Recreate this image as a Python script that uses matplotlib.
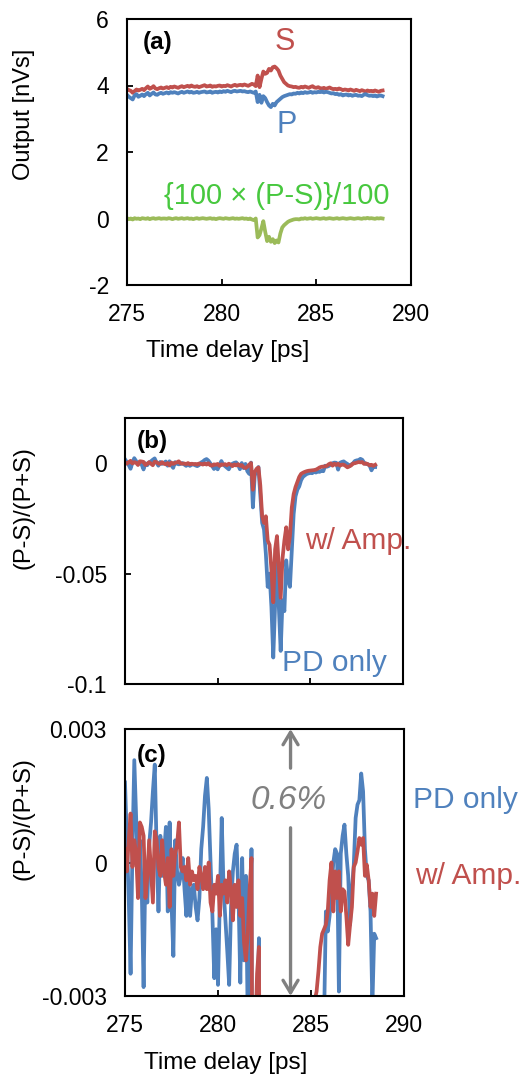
import numpy as np
import matplotlib
matplotlib.use("Agg")
import matplotlib.pyplot as plt

# ---- data ----
# time delay [ps], one sample every 0.1 ps
time_ps = [
    275.0, 275.1, 275.2, 275.3, 275.4, 275.5, 275.6, 275.7, 275.8, 275.9,
    276.0, 276.1, 276.2, 276.3, 276.4, 276.5, 276.6, 276.7, 276.8, 276.9,
    277.0, 277.1, 277.2, 277.3, 277.4, 277.5, 277.6, 277.7, 277.8, 277.9,
    278.0, 278.1, 278.2, 278.3, 278.4, 278.5, 278.6, 278.7, 278.8, 278.9,
    279.0, 279.1, 279.2, 279.3, 279.4, 279.5, 279.6, 279.7, 279.8, 279.9,
    280.0, 280.1, 280.2, 280.3, 280.4, 280.5, 280.6, 280.7, 280.8, 280.9,
    281.0, 281.1, 281.2, 281.3, 281.4, 281.5, 281.6, 281.7, 281.8, 281.9,
    282.0, 282.1, 282.2, 282.3, 282.4, 282.5, 282.6, 282.7, 282.8, 282.9,
    283.0, 283.1, 283.2, 283.3, 283.4, 283.5, 283.6, 283.7, 283.8, 283.9,
    284.0, 284.1, 284.2, 284.3, 284.4, 284.5, 284.6, 284.7, 284.8, 284.9,
    285.0, 285.1, 285.2, 285.3, 285.4, 285.5, 285.6, 285.7, 285.8, 285.9,
    286.0, 286.1, 286.2, 286.3, 286.4, 286.5, 286.6, 286.7, 286.8, 286.9,
    287.0, 287.1, 287.2, 287.3, 287.4, 287.5, 287.6, 287.7, 287.8, 287.9,
    288.0, 288.1, 288.2, 288.3, 288.4, 288.5,
]

# panel (a): outputs [nVs]
s_output = [
    3.90, 3.86, 3.84, 3.78, 3.83, 3.88, 3.85, 3.87, 3.90, 3.86,
    3.92, 3.97, 3.90, 3.93, 3.98, 3.91, 3.89, 3.92, 3.94, 3.91,
    3.93, 3.95, 3.92, 3.96, 3.94, 3.97, 3.95, 3.93, 3.96, 3.98,
    3.95, 3.97, 3.99, 3.96, 4.00, 3.97, 3.96, 3.98, 3.95, 3.97,
    3.99, 4.01, 3.97, 3.98, 4.00, 3.96, 3.98, 3.97, 3.99, 4.00,
    3.97, 3.99, 3.98, 4.01, 3.99, 3.97, 4.00, 4.02, 3.99, 4.01,
    4.02, 4.00, 4.03, 4.01, 3.99, 4.02, 4.05, 4.03, 3.98, 4.30,
    3.95, 4.20, 4.42, 4.35, 4.38, 4.50, 4.45, 4.55, 4.57, 4.52,
    4.45, 4.30, 4.20, 4.10, 4.05, 4.00, 3.98, 3.97, 3.95, 3.96,
    3.94, 3.93, 3.96, 3.94, 3.97, 3.95, 3.93, 3.96, 3.98, 3.94,
    3.93, 3.95, 3.92, 3.91, 3.93, 3.90, 3.92, 3.94, 3.91, 3.89,
    3.90, 3.88, 3.91, 3.89, 3.86, 3.88, 3.87, 3.85, 3.88, 3.86,
    3.84, 3.87, 3.85, 3.83, 3.86, 3.84, 3.82, 3.85, 3.83, 3.84,
    3.82, 3.85, 3.83, 3.81, 3.84, 3.85,
]
p_output = [
    3.72, 3.66, 3.62, 3.58, 3.70, 3.74, 3.66, 3.69, 3.73, 3.68,
    3.74, 3.78, 3.70, 3.75, 3.79, 3.73, 3.72, 3.76, 3.78, 3.75,
    3.77, 3.79, 3.76, 3.80, 3.78, 3.80, 3.78, 3.76, 3.79, 3.81,
    3.78, 3.80, 3.82, 3.79, 3.81, 3.78, 3.79, 3.81, 3.78, 3.80,
    3.81, 3.82, 3.79, 3.80, 3.82, 3.78, 3.80, 3.81, 3.79, 3.82,
    3.80, 3.83, 3.81, 3.84, 3.82, 3.80, 3.83, 3.84, 3.82, 3.83,
    3.84, 3.82, 3.83, 3.81, 3.80, 3.82, 3.80, 3.78, 3.82, 3.50,
    3.72, 3.48, 3.68, 3.62, 3.50, 3.40, 3.35, 3.45, 3.40, 3.50,
    3.55, 3.60, 3.65, 3.68, 3.70, 3.72, 3.74, 3.73, 3.76, 3.75,
    3.78, 3.76, 3.79, 3.77, 3.80, 3.78, 3.79, 3.81, 3.78, 3.80,
    3.79, 3.81, 3.80, 3.82, 3.79, 3.81, 3.80, 3.78, 3.76, 3.77,
    3.74, 3.75, 3.72, 3.74, 3.70, 3.72, 3.73, 3.70, 3.72, 3.69,
    3.71, 3.72, 3.69, 3.70, 3.68, 3.72, 3.74, 3.71, 3.69, 3.70,
    3.68, 3.70, 3.67, 3.69, 3.70, 3.68,
]
diff_output = [
    0.01, -0.02, 0.00, -0.03, 0.01, -0.01, 0.00, -0.02, 0.01, 0.00,
    -0.01, 0.01, -0.02, 0.00, 0.01, -0.01, 0.00, 0.01, -0.01, 0.00,
    0.00, -0.01, 0.01, 0.00, -0.02, 0.00, 0.01, -0.01, 0.00, 0.01,
    -0.01, 0.00, 0.01, -0.01, 0.00, -0.02, 0.00, 0.01, -0.01, 0.00,
    0.01, 0.00, -0.01, 0.00, 0.01, -0.01, 0.00, -0.02, 0.00, 0.01,
    0.00, -0.01, 0.01, 0.00, -0.01, 0.00, 0.01, -0.01, 0.00, -0.01,
    0.00, 0.01, -0.01, 0.00, -0.02, 0.00, -0.03, -0.05, 0.00, -0.57,
    -0.50, -0.30, -0.08, -0.40, -0.68, -0.55, -0.70, -0.62, -0.74, -0.66,
    -0.72, -0.45, -0.27, -0.20, -0.15, -0.10, -0.07, -0.05, -0.03, -0.02,
    -0.02, -0.03, 0.00, -0.01, 0.01, -0.01, 0.00, 0.01, -0.01, 0.00,
    0.01, 0.00, -0.01, 0.00, 0.01, -0.01, 0.00, 0.01, 0.00, -0.01,
    0.00, 0.01, -0.01, 0.00, 0.01, 0.00, -0.01, 0.00, 0.01, 0.00,
    -0.01, 0.00, 0.01, 0.00, -0.01, 0.01, 0.00, 0.02, 0.00, 0.01,
    0.00, -0.01, 0.01, 0.00, 0.01, 0.00,
]

# panels (b) and (c): (P-S)/(P+S), given in units of 1e-3
pd_only_milli = [
    1.8, 0.5, -0.8, -2.5, 0.3, 2.3, 1.0, -0.3, 0.5, -0.6,
    -2.8, 0.0, -0.9, 0.4, 0.9, 1.6, 2.2, 0.3, -1.1, 0.6,
    -0.3, 0.2, 0.8, -1.1, 0.9, -0.9, -2.1, 0.5, -0.2, -0.5,
    -0.3, 0.1, -0.6, -1.2, -0.4, -1.2, -0.6, -0.5, -1.0, -1.3,
    -0.8, 0.3, 0.8, 1.5, 1.9, 1.2, 0.0, -1.2, -2.6, -1.5,
    -2.75, -0.8, 1.0, -0.6, -1.3, -2.0, -2.75, -1.0, -0.2, 0.2,
    0.4, -0.7, -2.7, 0.1, -2.2, -0.3, -3.6, -4.8, 0.3, -20.0,
    -5.5, -3.8, -1.7, -14.0, -27.0, -30.0, -41.0, -56.0, -50.0, -65.0,
    -88.0, -64.0, -40.0, -65.0, -85.0, -62.0, -67.0, -44.0, -53.0, -56.0,
    -39.0, -23.0, -15.0, -12.0, -10.5, -7.7, -6.2, -5.5, -4.9, -4.6,
    -4.4, -4.5, -3.9, -4.2, -3.7, -3.9, -3.4, -3.6, -1.1, -1.55,
    -1.2, -0.6, 0.0, 0.3, 0.2, -2.9, 0.2, 0.6, 0.85, 0.2,
    -0.3, -1.4, -0.6, -0.05, 1.0, 1.3, 1.4, 2.0, 1.6, 0.3,
    -0.3, -0.4, -1.1, -3.2, -1.6, -1.7,
]
w_amp_milli = [
    0.3, -0.2, 0.5, 1.1, -0.1, 0.5, 0.2, -0.8, 0.9, 0.8,
    0.6, -0.8, -0.3, 0.5, -0.2, -0.9, 0.7, 0.5, -0.1, -0.3,
    0.5, -0.2, -0.5, 0.1, -1.0, 0.3, -0.3, 0.2, 0.4, 0.9,
    -0.1, -0.2, -0.1, -0.4, 0.1, -0.5, -0.2, -0.4, -0.3, -0.6,
    -0.1, -0.3, -0.6, -0.1, -0.6, 0.0, -0.9, -1.1, -0.5, -0.7,
    -0.3, -1.2, -0.5, -0.7, -0.4, -0.9, -0.2, -0.6, -1.3, -0.5,
    -1.0, -0.4, -1.2, -0.8, -1.8, -2.2, -1.6, -0.6, 0.1, -12.0,
    -4.0, -2.5, -1.9, -10.0, -24.0, -27.0, -24.0, -35.0, -37.0, -48.0,
    -63.0, -39.0, -33.0, -47.0, -61.0, -43.0, -35.0, -29.0, -39.0, -33.0,
    -20.0, -14.0, -10.8, -8.5, -6.2, -4.8, -4.3, -3.9, -3.6, -3.4,
    -3.3, -3.2, -3.1, -2.9, -2.45, -1.9, -1.6, -1.5, -1.4, -1.1,
    -0.4, 0.0, -1.1, -0.2, -0.8, -0.2, -1.1, -0.6, -0.65, -1.2,
    -1.85, -1.4, -1.0, -0.1, 0.0, 0.25, 0.55, 0.4, 0.55, -0.3,
    -0.05, -0.4, -1.0, -0.7, -1.2, -0.7,
]

x_ticks = [275, 280, 285, 290]
x_tick_labels = ["275", "280", "285", "290"]
a_ticks = [-2, 0, 2, 4, 6]
a_tick_labels = ["-2", "0", "2", "4", "6"]
b_ticks = [-0.1, -0.05, 0]
b_tick_labels = ["-0.1", "-0.05", "0"]
c_ticks = [-0.003, 0, 0.003]
c_tick_labels = ["-0.003", "0", "0.003"]

RED = "#C0504D"
BLUE = "#4F81BD"
GREEN_LINE = "#9BBB59"
GREEN_TEXT = "#47C83E"
GREY = "#808080"
LW = 2.7

plt.rcParams["font.family"] = ["Liberation Sans", "DejaVu Sans"]

W, H = 523, 1076
fig = plt.figure(figsize=(W / 100, H / 100), dpi=100)


def box(left, top, right, bottom):
    # pixel box -> figure fraction
    return [left / W, 1 - bottom / H, (right - left) / W, (bottom - top) / H]


def style(ax, yticks, ylabels, show_x):
    ax.set_xlim(275, 290)
    ax.set_xticks(x_ticks)
    ax.set_xticklabels(x_tick_labels if show_x else [])
    ax.set_yticks(yticks)
    ax.set_yticklabels(ylabels)
    ax.tick_params(direction="in", length=4.5, width=1.3, labelsize=16.5)
    ax.tick_params(axis="x", pad=13)
    ax.tick_params(axis="y", pad=13)
    for sp in ax.spines.values():
        sp.set_linewidth(1.5)


t = np.array(time_ps)
pd_only = np.array(pd_only_milli) * 1e-3
w_amp = np.array(w_amp_milli) * 1e-3

# (a)
ax_a = fig.add_axes(box(127, 19, 411, 285))
ax_a.plot(t, s_output, color=RED, lw=LW)
ax_a.plot(t, p_output, color=BLUE, lw=LW)
ax_a.plot(t, diff_output, color=GREEN_LINE, lw=LW)
ax_a.set_ylim(-2, 6)
style(ax_a, a_ticks, a_tick_labels, True)
ax_a.text(0.109, 0.91, "(a)", transform=ax_a.transAxes, fontsize=17.5,
          fontweight="bold", ha="center", va="center")
ax_a.text(0.556, 0.914, "S", transform=ax_a.transAxes, fontsize=22,
          color=RED, ha="center", va="center")
ax_a.text(0.563, 0.602, "P", transform=ax_a.transAxes, fontsize=22,
          color=BLUE, ha="center", va="center")
ax_a.text(0.528, 0.335, "{100 \u00d7 (P-S)}/100", transform=ax_a.transAxes,
          fontsize=21, color=GREEN_TEXT, ha="center", va="center")

# (b)
ax_b = fig.add_axes(box(125, 418, 403, 684))
ax_b.plot(t, pd_only, color=BLUE, lw=LW)
ax_b.plot(t, w_amp, color=RED, lw=LW)
ax_b.set_ylim(-0.1, 0.0205)
style(ax_b, b_ticks, b_tick_labels, False)
ax_b.text(0.097, 0.91, "(b)", transform=ax_b.transAxes, fontsize=17.5,
          fontweight="bold", ha="center", va="center")
ax_b.text(0.647, 0.538, "w/ Amp.", transform=ax_b.transAxes, fontsize=21.5,
          color=RED, ha="left", va="center")
ax_b.text(0.565, 0.079, "PD only", transform=ax_b.transAxes, fontsize=21.5,
          color=BLUE, ha="left", va="center")

# (c) zoom of (b)
ax_c = fig.add_axes(box(125, 729, 404, 996))
ax_c.plot(t, pd_only, color=BLUE, lw=LW)
ax_c.plot(t, w_amp, color=RED, lw=LW)
ax_c.set_ylim(-0.003, 0.003)
style(ax_c, c_ticks, c_tick_labels, True)
ax_c.text(0.097, 0.899, "(c)", transform=ax_c.transAxes, fontsize=17.5,
          fontweight="bold", ha="center", va="center")
ax_c.text(1.032, 0.734, "PD only", transform=ax_c.transAxes, fontsize=21.5,
          color=BLUE, ha="left", va="center")
ax_c.text(1.039, 0.449, "w/ Amp.", transform=ax_c.transAxes, fontsize=21.5,
          color=RED, ha="left", va="center")
ax_c.text(0.588, 0.734, "0.6%", transform=ax_c.transAxes, fontsize=24,
          color=GREY, style="italic", ha="center", va="center")
arrow = dict(arrowstyle="->,head_length=0.5,head_width=0.3", color=GREY,
             lw=2.4, mutation_scale=18, shrinkA=0, shrinkB=0)
ax_c.annotate("", xy=(283.9, 0.003), xytext=(283.9, 0.00212), arrowprops=arrow)
ax_c.annotate("", xy=(283.9, -0.003), xytext=(283.9, 0.00078), arrowprops=arrow)

# axis titles (placed like the original, off-centre)
fig.text(24 / W, 1 - 114 / H, "Output [nVs]", rotation=90, fontsize=17,
         ha="center", va="center")
fig.text(24 / W, 1 - 508 / H, "(P-S)/(P+S)", rotation=90, fontsize=17,
         ha="center", va="center")
fig.text(24 / W, 1 - 819 / H, "(P-S)/(P+S)", rotation=90, fontsize=17,
         ha="center", va="center")
fig.text(228 / W, 1 - 351 / H, "Time delay [ps]", fontsize=17.5,
         ha="center", va="center")
fig.text(226 / W, 1 - 1063 / H, "Time delay [ps]", fontsize=17.5,
         ha="center", va="center")

fig.savefig("out.png", dpi=100)
plt.close(fig)
